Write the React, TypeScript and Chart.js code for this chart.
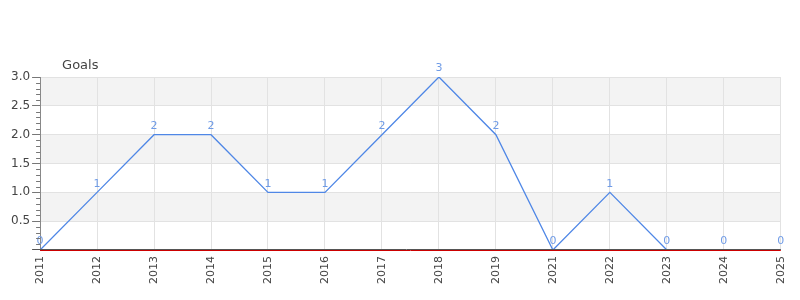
import React, { useEffect, useRef } from "react";
import { Chart, registerables } from "chart.js";

Chart.register(...registerables);

const categories = ["2011", "2012", "2013", "2014", "2015", "2016", "2017", "2018", "2019", "2021", "2022", "2023", "2024", "2025"];
const goals = [0, 1, 2, 2, 1, 1, 2, 3, 2, 0, 1, 0, 0, 0];
const yTickValues = [0.5, 1.0, 1.5, 2.0, 2.5, 3.0];
const axisTitle = "Goals";

const FONT = "'DejaVu Sans', sans-serif";

const bandsPlugin = {
  id: "bands",
  beforeDraw(chart: any) {
    const { ctx, chartArea, scales } = chart;
    const y = scales.y;
    ctx.save();
    ctx.fillStyle = "#f3f3f3";
    for (let v = 0.5; v < 3; v += 1) {
      const top = y.getPixelForValue(v + 0.5);
      const bot = y.getPixelForValue(v);
      ctx.fillRect(chartArea.left, top, chartArea.right - chartArea.left, bot - top);
    }
    ctx.restore();
  },
  afterDraw(chart: any) {
    const { ctx, chartArea, scales } = chart;
    const y = scales.y;
    ctx.save();
    ctx.strokeStyle = "#777";
    ctx.lineWidth = 1;
    for (let i = 1; i < 30; i++) {
      if (i % 5 === 0) continue;
      const py = Math.round(y.getPixelForValue(i / 10)) + 0.5;
      ctx.beginPath();
      ctx.moveTo(chartArea.left - 4, py);
      ctx.lineTo(chartArea.left, py);
      ctx.stroke();
    }
    const by = Math.round(y.getPixelForValue(0));
    ctx.strokeStyle = "#555";
    ctx.beginPath();
    ctx.moveTo(chartArea.left - 8, by - 0.5);
    ctx.lineTo(chartArea.right, by - 0.5);
    ctx.stroke();
    ctx.strokeStyle = "#cc0000";
    ctx.beginPath();
    ctx.moveTo(chartArea.left, by + 0.5);
    ctx.lineTo(chartArea.right, by + 0.5);
    ctx.stroke();
    ctx.fillStyle = "#444";
    ctx.font = `13px ${FONT}`;
    ctx.textAlign = "left";
    ctx.textBaseline = "middle";
    ctx.fillText(axisTitle, chartArea.left + 22, chartArea.top - 11);
    ctx.restore();
  },
  afterDatasetsDraw(chart: any) {
    const { ctx } = chart;
    const meta = chart.getDatasetMeta(0);
    ctx.save();
    ctx.fillStyle = "#6f9be6";
    ctx.font = `11px ${FONT}`;
    ctx.textAlign = "center";
    ctx.textBaseline = "bottom";
    meta.data.forEach((el: any, i: number) => {
      ctx.fillText(String(goals[i]), el.x, el.y - 3);
    });
    ctx.restore();
  },
};

export default function App() {
  const ref = useRef<HTMLCanvasElement>(null);
  useEffect(() => {
    document.body.style.margin = "0";
    const chart = new Chart(ref.current!, {
      type: "line",
      data: {
        labels: categories,
        datasets: [
          {
            data: goals,
            borderColor: "#4f87e6",
            borderWidth: 1.3,
            pointRadius: 0,
            tension: 0,
            fill: false,
          },
        ],
      },
      options: {
        animation: false,
        responsive: false,
        layout: { padding: { top: 77, right: 19, left: 9, bottom: 10 } },
        plugins: { legend: { display: false }, tooltip: { enabled: false } },
        scales: {
          x: {
            offset: false,
            grid: { color: "#e2e2e2", drawTicks: false },
            border: { display: false },
            ticks: {
              color: "#444",
              font: { family: FONT, size: 11 },
              minRotation: 90,
              maxRotation: 90,
              padding: 6,
              autoSkip: false,
            },
          },
          y: {
            min: 0,
            max: 3,
            afterBuildTicks(scale: any) {
              scale.ticks = yTickValues.map((v) => ({ value: v }));
            },
            grid: { color: "#e2e2e2", tickColor: "#777", tickLength: 8 },
            border: { color: "#888" },
            ticks: {
              color: "#444",
              font: { family: FONT, size: 12 },
              padding: 2,
              callback: (v: any) => Number(v).toFixed(1),
            },
          },
        },
      },
      plugins: [bandsPlugin],
    });
    return () => chart.destroy();
  }, []);
  return (
    <div style={{ width: 800, height: 300 }}>
      <canvas ref={ref} width={800} height={300} />
    </div>
  );
}
